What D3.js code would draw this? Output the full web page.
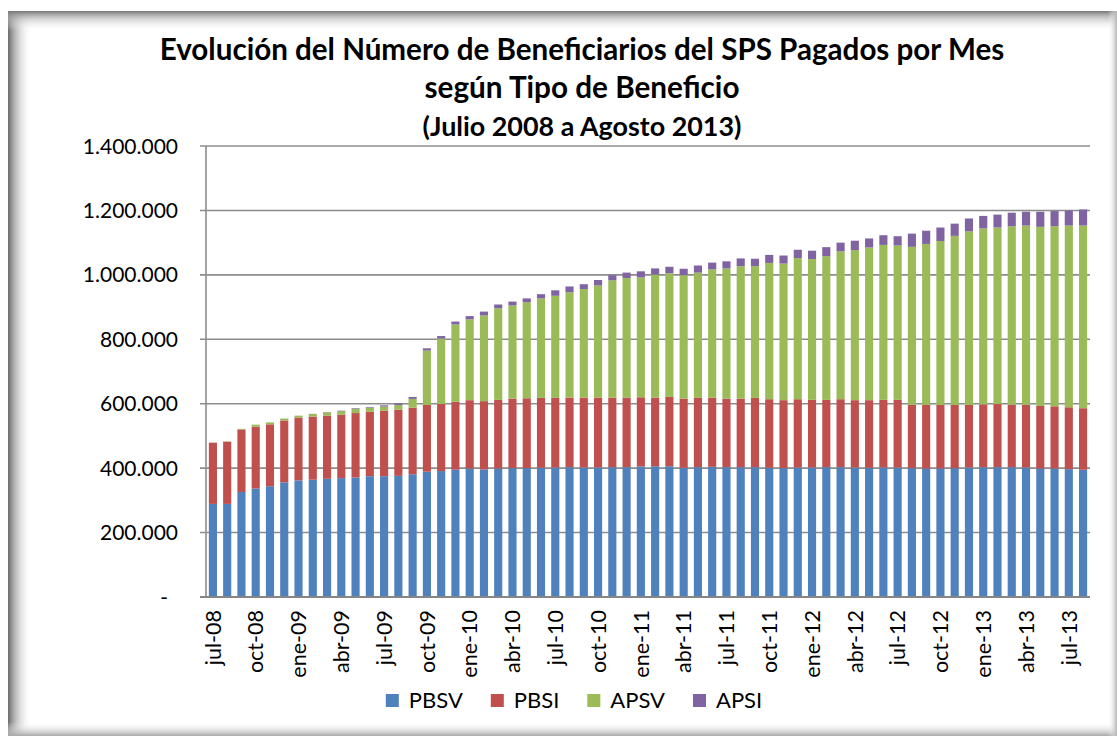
<!DOCTYPE html>
<html>
<head>
<meta charset="utf-8">
<script src="https://cdn.jsdelivr.net/npm/d3@7"></script>
<style>
  body { margin: 0; background: #fff; }
  svg { display: block; font-family: Lato, "Open Sans", sans-serif; }
</style>
</head>
<body>
<svg id="chart" width="1117" height="736"></svg>
<script>
// months, Jul 2008 .. Aug 2013
const months = [
  "jul-08","ago-08","sep-08","oct-08","nov-08","dic-08",
  "ene-09","feb-09","mar-09","abr-09","may-09","jun-09","jul-09","ago-09","sep-09","oct-09","nov-09","dic-09",
  "ene-10","feb-10","mar-10","abr-10","may-10","jun-10","jul-10","ago-10","sep-10","oct-10","nov-10","dic-10",
  "ene-11","feb-11","mar-11","abr-11","may-11","jun-11","jul-11","ago-11","sep-11","oct-11","nov-11","dic-11",
  "ene-12","feb-12","mar-12","abr-12","may-12","jun-12","jul-12","ago-12","sep-12","oct-12","nov-12","dic-12",
  "ene-13","feb-13","mar-13","abr-13","may-13","jun-13","jul-13","ago-13"
];

const pbsv = [
  289000,289000,326000,337000,344000,356000,
  362000,364000,367000,369000,371000,375000,375000,376000,381000,389000,391000,395000,
  399000,396000,399000,400000,400000,401000,402000,403000,402000,402000,403000,403000,
  405000,406000,406000,401000,403000,404000,403000,403000,403000,401000,400000,402000,
  402000,403000,403000,402000,401000,402000,402000,400000,399000,399000,400000,402000,
  403000,403000,403000,402000,399000,399000,397000,395000
];
const pbsi = [
  190000,193000,194000,192000,192000,192000,
  195000,196000,196000,197000,200000,200000,203000,205000,207000,207000,208000,211000,
  212000,212000,213000,216000,217000,217000,216000,216000,217000,217000,216000,216000,
  215000,213000,215000,215000,215000,215000,213000,213000,215000,213000,211000,212000,
  210000,209000,211000,209000,210000,210000,210000,197000,197000,197000,196000,194000,
  195000,196000,194000,195000,194000,193000,192000,191000
];
const apsv = [
  500,1000,2000,6000,6000,6000,
  6000,8000,10000,11000,13000,13000,13000,15000,27000,169000,203000,240000,
  251000,266000,284000,289000,298000,309000,317000,327000,337000,348000,364000,371000,
  372000,382000,384000,383000,389000,398000,404000,411000,409000,423000,424000,438000,
  437000,446000,459000,466000,474000,481000,479000,490000,500000,509000,525000,539000,
  546000,548000,554000,556000,556000,559000,564000,567000
];
const apsi = [
  0,0,0,0,0,0,
  0,500,1000,1500,2000,2000,4000,5000,6000,7000,8000,9000,
  10000,12000,12000,12000,12000,13000,17000,18000,15000,17000,16000,17000,
  19000,19000,20000,20000,22000,21000,22000,24000,23000,25000,25000,26000,
  26000,28000,27000,29000,28000,30000,29000,41000,41000,42000,38000,40000,
  39000,40000,42000,43000,47000,47000,47000,50000
];

const seriesNames = ["PBSV", "PBSI", "APSV", "APSI"];
const seriesColors = ["#4F81BD", "#C0504D", "#9BBB59", "#8064A2"];
const yTicks = [0, 200000, 400000, 600000, 800000, 1000000, 1200000, 1400000];
const titleLines = [
  "Evolución del Número de Beneficiarios del SPS Pagados por Mes",
  "según Tipo de Beneficio",
  "(Julio 2008 a Agosto 2013)"
];

const svg = d3.select("#chart");
const defs = svg.append("defs");

// frame shadow (inset look of the original picture)
function grad(id, x1, y1, x2, y2, stops) {
  const g = defs.append("linearGradient").attr("id", id)
    .attr("x1", x1).attr("y1", y1).attr("x2", x2).attr("y2", y2);
  stops.forEach(s => g.append("stop").attr("offset", s[0])
    .attr("stop-color", s[1]).attr("stop-opacity", s[2]));
}
grad("gLeft", 0, 0, 1, 0, [[0, "#6a6a6a", 1], [0.25, "#9a9a9a", 0.8], [1, "#ffffff", 0]]);
grad("gTop", 0, 0, 0, 1, [[0, "#777777", 1], [0.3, "#aaaaaa", 0.7], [1, "#ffffff", 0]]);
grad("gBottom", 0, 1, 0, 0, [[0, "#a8a8a8", 1], [1, "#ffffff", 0]]);
grad("gRight", 1, 0, 0, 0, [[0, "#b5b5b5", 1], [1, "#ffffff", 0]]);

svg.append("rect").attr("x", 8).attr("y", 11).attr("width", 24).attr("height", 725).attr("fill", "url(#gLeft)");
svg.append("rect").attr("x", 8).attr("y", 11).attr("width", 1109).attr("height", 20).attr("fill", "url(#gTop)");
svg.append("rect").attr("x", 8).attr("y", 722).attr("width", 1109).attr("height", 14).attr("fill", "url(#gBottom)");
svg.append("rect").attr("x", 1108).attr("y", 11).attr("width", 9).attr("height", 725).attr("fill", "url(#gRight)");

// scales
const x = d3.scaleBand()
  .domain(months)
  .range([206, 1090])
  .paddingInner(0.43)
  .paddingOuter(0.2);

const y = d3.scaleLinear()
  .domain([0, 1400000])
  .range([597, 146]);

const locale = d3.formatLocale({ decimal: ",", thousands: ".", grouping: [3], currency: ["$", ""] });
const fmt = locale.format(",.0f");

// gridlines
svg.append("g")
  .selectAll("line")
  .data(yTicks.filter(d => d > 0))
  .enter()
  .append("line")
  .attr("x1", 200).attr("x2", 1090)
  .attr("y1", d => y(d)).attr("y2", d => y(d))
  .attr("stroke", "#8c8c8c")
  .attr("stroke-width", 1.6);

// y labels
svg.append("g")
  .selectAll("text")
  .data(yTicks)
  .enter()
  .append("text")
  .attr("x", d => d === 0 ? 168 : 178)
  .attr("y", d => y(d))
  .attr("dy", "0.36em")
  .attr("text-anchor", "end")
  .style("font-size", "21px")
  .attr("fill", "#000")
  .text(d => d === 0 ? "-" : fmt(d));

// stacked bars
const table = months.map((m, i) => ({
  month: m, PBSV: pbsv[i], PBSI: pbsi[i], APSV: apsv[i], APSI: apsi[i]
}));
const stack = d3.stack().keys(seriesNames)(table);

svg.append("g")
  .selectAll("g")
  .data(stack)
  .enter()
  .append("g")
  .attr("fill", (d, i) => seriesColors[i])
  .selectAll("rect")
  .data(d => d)
  .enter()
  .append("rect")
  .attr("x", d => x(d.data.month))
  .attr("width", x.bandwidth())
  .attr("y", d => y(d[1]))
  .attr("height", d => Math.max(0, y(d[0]) - y(d[1])));

// axes lines
svg.append("line")
  .attr("x1", 206).attr("x2", 206)
  .attr("y1", 146).attr("y2", 597)
  .attr("stroke", "#8c8c8c").attr("stroke-width", 1.6);
svg.append("line")
  .attr("x1", 200).attr("x2", 1090)
  .attr("y1", 597).attr("y2", 597)
  .attr("stroke", "#868686").attr("stroke-width", 2.2);

// x labels (every quarter)
svg.append("g")
  .selectAll("text")
  .data(months.filter((m, i) => i % 3 === 0))
  .enter()
  .append("text")
  .attr("transform", d => `translate(${x(d) + x.bandwidth() / 2}, 610) rotate(-90)`)
  .attr("dy", "0.36em")
  .attr("text-anchor", "end")
  .style("font-size", "21.5px")
  .attr("fill", "#000")
  .text(d => d);

// title, each line fitted to the width it has in the original
const titleY = [60, 98, 136];
const titleW = [845, 315, 319];
svg.append("g")
  .selectAll("text")
  .data(titleLines)
  .enter()
  .append("text")
  .attr("x", 582)
  .attr("y", (d, i) => titleY[i])
  .attr("text-anchor", "middle")
  .style("font-size", "26px")
  .style("font-weight", "bold")
  .attr("fill", "#000")
  .text(d => d)
  .each(function(d, i) {
    const w = this.getComputedTextLength();
    d3.select(this).style("font-size", (26 * titleW[i] / w) + "px");
  });

// legend
const legend = svg.append("g");
let lx = 0;
seriesNames.forEach((name, i) => {
  const item = legend.append("g").attr("transform", `translate(${lx}, 0)`);
  item.append("rect")
    .attr("x", 0).attr("y", 694)
    .attr("width", 13).attr("height", 13)
    .attr("fill", seriesColors[i]);
  const t = item.append("text")
    .attr("x", 23).attr("y", 708)
    .style("font-size", "22px")
    .attr("fill", "#000")
    .text(name);
  lx += 23 + t.node().getComputedTextLength() + 28;
});
const legendW = lx - 28;
legend.attr("transform", `translate(${574 - legendW / 2}, 0)`);
</script>
</body>
</html>
